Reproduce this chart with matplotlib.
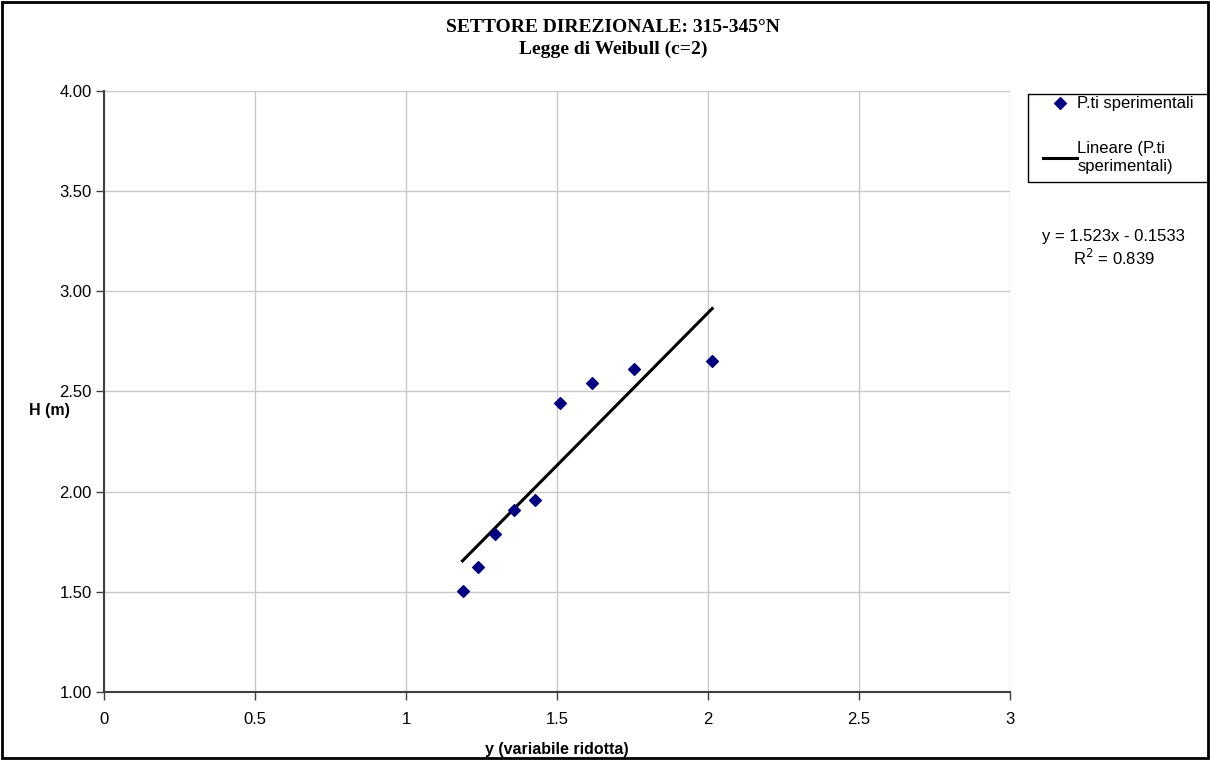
import numpy as np
import matplotlib.pyplot as plt
from matplotlib.patches import Rectangle

# variabile ridotta (Weibull c=2) e altezze d'onda misurate
y_rid = [1.187, 1.239, 1.296, 1.356, 1.427, 1.510, 1.615, 1.755, 2.014]
h_m = [1.504, 1.625, 1.787, 1.906, 1.958, 2.442, 2.541, 2.611, 2.651]

# retta di regressione
slope = 1.523
intercept = -0.1533
r2 = 0.839

x_ticks = [0, 0.5, 1, 1.5, 2, 2.5, 3]
x_ticklabels = ['0', '0.5', '1', '1.5', '2', '2.5', '3']
y_ticks = [1.00, 1.50, 2.00, 2.50, 3.00, 3.50, 4.00]

plt.rcParams['font.family'] = ['Liberation Sans', 'DejaVu Sans']

fig = plt.figure(figsize=(12.1, 7.6), dpi=100)
ax = fig.add_axes([0.086, 0.0895, 0.7487, 0.7908])

ax.scatter(y_rid, h_m, marker='D', s=36, color='#000080', zorder=3,
           label='P.ti sperimentali')
xs = np.array([min(y_rid), max(y_rid)])
ax.plot(xs, slope * xs + intercept, color='black', lw=2.2, zorder=2,
        label='Lineare (P.ti\nsperimentali)')

ax.set_xlim(0, 3)
ax.set_ylim(1, 4)
ax.set_xticks(x_ticks)
ax.set_xticklabels(x_ticklabels)
ax.set_yticks(y_ticks)
ax.set_yticklabels(['%.2f' % v for v in y_ticks])
ax.grid(True, color='#c8c8c8', lw=1)
ax.set_axisbelow(True)
for s in ['top', 'right']:
    ax.spines[s].set_visible(False)
for s in ['left', 'bottom']:
    ax.spines[s].set_color('#404040')
    ax.spines[s].set_linewidth(1.5)
ax.tick_params(direction='out', length=5.5, width=1, color='#404040',
               labelsize=12)
ax.tick_params(axis='x', pad=9)
ax.tick_params(axis='y', pad=3.5)

ax.set_xlabel('y (variabile ridotta)', fontsize=11.5, fontweight='bold',
              labelpad=11)
ax.set_ylabel('H (m)', fontsize=11.5, fontweight='bold', rotation=0,
              ha='center', va='center')
ax.yaxis.set_label_coords(-0.06, 0.469)

fig.text(0.5066, 0.9632, 'SETTORE DIREZIONALE: 315-345°N', ha='center',
         va='center', fontsize=14, fontweight='bold', family='Liberation Serif')
fig.text(0.5066, 0.9355, 'Legge di Weibull (c=2)', ha='center', va='center',
         fontsize=14, fontweight='bold', family='Liberation Serif')

# legenda senza cornice, la cornice va disegnata a parte
leg = ax.legend(loc='upper left', bbox_to_anchor=(0.8496, 0.894),
                bbox_transform=fig.transFigure, frameon=False, fontsize=12,
                handlelength=2.05, handletextpad=0.0, labelspacing=1.85,
                borderpad=0.9, borderaxespad=0, scatterpoints=1)
fig.patches.append(Rectangle((0.8496, 1 - 182 / 760), 0.156, 88 / 760,
                             transform=fig.transFigure, fill=False,
                             edgecolor='black', lw=1))

fig.text(0.9205, 0.689, 'y = 1.523x - 0.1533', ha='center', va='center',
         fontsize=12)
fig.text(0.9205, 0.661, 'R$^2$ = %.3f' % r2, ha='center', va='center',
         fontsize=12)

# cornice esterna del grafico
fig.patches.append(Rectangle((0.002, 0.002), 0.996, 0.995,
                             transform=fig.transFigure, fill=False,
                             edgecolor='black', lw=2))

fig.savefig('out.png', dpi=100)
